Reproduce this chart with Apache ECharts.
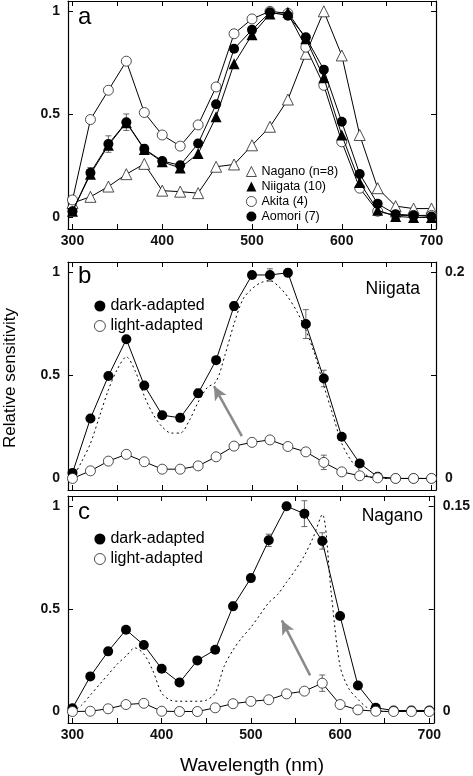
<!DOCTYPE html>
<html><head><meta charset="utf-8">
<script src="https://cdn.jsdelivr.net/npm/echarts@6/dist/echarts.min.js"></script>
<style>html,body{margin:0;padding:0;background:#fff}#c{width:473px;height:776px}</style>
</head><body><div id="c"></div>
<script>
// ---- data ----
const wavelengths = [300,320,340,360,380,400,420,440,460,480,500,520,540,560,580,600,620,640,660,680,700];
const xTickValues = [300,350,400,450,500,550,600,650,700];
const xLabelValues = [300,400,500,600,700];
const yTickValues = [0,0.5,1];

// panel a
const naganoA  = [0.07,0.10,0.15,0.21,0.26,0.13,0.125,0.118,0.246,0.257,0.35,0.44,0.572,0.794,1.0,0.786,0.40,0.142,0.055,0.043,0.043];
const niigataA = [0.03,0.21,0.35,0.46,0.33,0.27,0.24,0.31,0.488,0.746,0.886,0.987,0.995,0.867,0.678,0.40,0.17,0.035,0.005,0.0,0.0];
const akitaA   = [0.085,0.475,0.617,0.758,0.509,0.40,0.346,0.449,0.633,0.891,0.963,1.0,0.99,0.826,0.641,0.367,0.142,0.03,0.01,0.01,0.01];
const aomoriA  = [0.03,0.217,0.356,0.462,0.333,0.274,0.253,0.359,0.549,0.818,0.91,0.995,0.979,0.874,0.717,0.464,0.211,0.066,0.016,0.01,0.005];
const aomoriErrA = [0.02,0.025,0.04,0.04,0.02,0.015,0.015,0,0,0,0,0,0,0,0,0,0,0,0,0,0];

// panel b (Niigata)
const darkB  = [0.027,0.291,0.497,0.675,0.451,0.307,0.294,0.413,0.574,0.836,0.987,0.987,0.998,0.749,0.485,0.202,0.073,0.008,0.0,0.0,0.0];
const darkBErr = [0,0,0,0,0,0,0,0.02,0,0.02,0,0.03,0.02,0.07,0.04,0,0,0,0,0,0];
const lightB = [0.0,0.0074,0.0168,0.0234,0.0162,0.009,0.009,0.0122,0.021,0.0314,0.035,0.0374,0.031,0.0258,0.0156,0.0064,0.0026,0.0006,0.0,0.0,0.0];
const lightBErr = [0,0,0,0,0,0,0,0,0,0,0,0,0,0,0.007,0,0,0,0,0,0];

// panel c (Nagano)
const darkC  = [0.016,0.171,0.293,0.398,0.324,0.208,0.141,0.249,0.301,0.513,0.65,0.834,1.0,0.964,0.831,0.465,0.127,0.018,0.005,0.005,0.005];
const darkCErr = [0,0,0,0,0,0,0,0.015,0,0.02,0,0.03,0.015,0.063,0.04,0,0,0,0,0,0];
const lightC = [0,0.0002,0.002,0.0051,0.006,0.0002,0,0,0.0027,0.0057,0.0074,0.0086,0.0129,0.0149,0.0207,0.0051,0.0012,0.0002,0,0,0];
const lightCErr = [0,0,0,0,0,0,0,0,0,0,0,0,0,0,0.006,0,0,0,0,0,0];

// dotted curves (10 nm steps)
const dottedWavelengths = [300,310,320,330,340,350,360,370,380,390,400,410,420,430,440,450,460,470,480,490,500,510,520,530,540,550,560,570,580,590,600,610,620,630,640,650,660,670,680,690,700];
const dottedB = [0.0,0.08,0.17,0.30,0.43,0.53,0.59,0.52,0.40,0.31,0.25,0.22,0.22,0.28,0.37,0.44,0.47,0.60,0.75,0.87,0.92,0.95,0.96,0.93,0.88,0.81,0.72,0.60,0.45,0.31,0.17,0.09,0.04,0.01,0,0,0,0,0,0,0];
const dottedC = [0,0.03,0.08,0.13,0.18,0.23,0.27,0.31,0.28,0.20,0.09,0.055,0.05,0.05,0.05,0.055,0.09,0.22,0.30,0.36,0.41,0.47,0.53,0.57,0.63,0.69,0.76,0.85,0.96,0.58,0.22,0.11,0.06,0.02,0.01,0,0,0,0,0,0];

// arrows (data units of left axis) [tail, head]
const arrowB = [[488.7,0.205],[457.6,0.448]];
const arrowC = [[566.4,0.176],[534.7,0.444]];

// ---- chart ----
const FONT = '"Liberation Sans", Arial, Helvetica, sans-serif';
const chart = echarts.init(document.getElementById('c'), null, {renderer:'canvas'});

const grids = [
  {left:68, top:1, width:368, height:228},
  {left:68, top:262, width:368, height:228},
  {left:68, top:496, width:368, height:227}
];

function xAx(g, pos, showLabel){
  return {type:'value', gridIndex:g, position:pos, min:295, max:705,
    axisLine:{show:true, onZero:false, lineStyle:{color:'#000', width:1.2}},
    axisTick:{show:true, inside:true, length:5, customValues:xTickValues, lineStyle:{color:'#000', width:1}},
    axisLabel:{show:showLabel, customValues:xLabelValues, fontFamily:FONT, fontSize:14, fontWeight:'bold', color:'#111', margin:5},
    splitLine:{show:false}};
}
function yAx(g, pos, min, max, ticks, labels){
  return {type:'value', gridIndex:g, position:pos, min:min, max:max,
    axisLine:{show:true, onZero:false, lineStyle:{color:'#000', width:1.2}},
    axisTick:{show:true, inside:true, length:5, customValues:ticks, lineStyle:{color:'#000', width:1}},
    axisLabel:{show:labels.length>0, customValues:labels, fontFamily:FONT, fontSize:14, fontWeight:'bold', color:'#111', margin:pos==='left'?8:9},
    splitLine:{show:false}};
}
const LMIN=-0.056, LMAX=1.05;
const xAxes = [xAx(0,'bottom',true), xAx(0,'top',false), xAx(1,'bottom',false), xAx(1,'top',false), xAx(2,'bottom',true), xAx(2,'top',false)];
const yAxes = [
  yAx(0,'left',LMIN,LMAX,yTickValues,yTickValues),
  yAx(0,'right',LMIN,LMAX,yTickValues,[]),
  yAx(1,'left',LMIN,LMAX,yTickValues,yTickValues),
  yAx(1,'right',LMIN*0.2,LMAX*0.2,[0,0.1,0.2],[0,0.2]),
  yAx(2,'left',LMIN,LMAX,yTickValues,yTickValues),
  yAx(2,'right',LMIN*0.15,LMAX*0.15,[0,0.075,0.15],[0,0.15])
];

function pairs(xs, ys){ return xs.map((x,i)=>[x, ys[i]]); }
function lineS(name, xi, yi, ys, symbol, filled, size, z){
  return {type:'line', name:name, xAxisIndex:xi, yAxisIndex:yi, data:pairs(wavelengths, ys),
    symbol:symbol, symbolSize:size, showSymbol:true, showAllSymbol:true, z:z||3,
    lineStyle:{color:'#000', width:1},
    itemStyle:{color: filled?'#000':'#fff', borderColor: filled?'#000':'#222', borderWidth: filled?0:0.8, opacity:1},
    emphasis:{disabled:true}, animation:false};
}
function errS(xi, yi, ys, errs){
  const d = [];
  wavelengths.forEach((w,i)=>{ if(errs[i]>0) d.push([w, ys[i]-errs[i], ys[i]+errs[i]]); });
  return {type:'custom', xAxisIndex:xi, yAxisIndex:yi, z:2, silent:true, animation:false,
    encode:{x:0, y:[1,2]}, data:d,
    renderItem:function(params, api){
      const x = api.value(0);
      const lo = api.coord([x, api.value(1)]);
      const hi = api.coord([x, api.value(2)]);
      const cw = 3, st = {stroke:'#444', lineWidth:0.8};
      return {type:'group', children:[
        {type:'line', shape:{x1:lo[0],y1:lo[1],x2:hi[0],y2:hi[1]}, style:st},
        {type:'line', shape:{x1:lo[0]-cw,y1:lo[1],x2:lo[0]+cw,y2:lo[1]}, style:st},
        {type:'line', shape:{x1:hi[0]-cw,y1:hi[1],x2:hi[0]+cw,y2:hi[1]}, style:st}
      ]};
    }};
}
function dotS(xi, yi, ys){
  return {type:'line', xAxisIndex:xi, yAxisIndex:yi, data:pairs(dottedWavelengths, ys), symbol:'none', smooth:0.3, z:1,
    lineStyle:{color:'#000', width:1, type:[2,3]}, silent:true, animation:false};
}
function arrowML(coords){
  return {silent:true, symbol:['none','arrow'], symbolSize:[10,14], animation:false,
    label:{show:false}, lineStyle:{color:'#8a8a8a', width:2.5, type:'solid'}, emphasis:{disabled:true},
    data:[[{coord:coords[0]},{coord:coords[1]}]]};
}

const series = [];
// panel a
series.push(lineS('Nagano (n=8)',0,0,naganoA,'triangle',false,11,3));
series.push(lineS('Akita (4)',0,0,akitaA,'circle',false,10,3));
series.push(lineS('Niigata (10)',0,0,niigataA,'triangle',true,11,4));
series.push(errS(0,0,aomoriA,aomoriErrA));
series.push(lineS('Aomori (7)',0,0,aomoriA,'circle',true,10,5));
// panel b
series.push(dotS(2,2,dottedB));
series.push(errS(2,2,darkB,darkBErr));
const sdB = lineS('dark-adapted',2,2,darkB,'circle',true,10,3);
sdB.markLine = arrowML(arrowB);
series.push(sdB);
series.push(errS(2,3,lightB,lightBErr));
series.push(lineS('light-adapted',2,3,lightB,'circle',false,10,4));
// panel c
series.push(dotS(4,4,dottedC));
series.push(errS(4,4,darkC,darkCErr));
const sdC = lineS('dark-adapted',4,4,darkC,'circle',true,10,3);
sdC.markLine = arrowML(arrowC);
series.push(sdC);
series.push(errS(4,5,lightC,lightCErr));
series.push(lineS('light-adapted',4,5,lightC,'circle',false,10,4));

const openIcon = {color:'#fff', borderColor:'#222', borderWidth:0.8};
const filledIcon = {color:'#000', borderWidth:0};
const legendBase = {orient:'vertical', selectedMode:false, padding:0, textStyle:{fontFamily:FONT, color:'#000'}};

const option = {
  backgroundColor:'#fff',
  animation:false,
  grid:grids,
  xAxis:xAxes,
  yAxis:yAxes,
  series:series,
  legend:[
    Object.assign({}, legendBase, {left:246, top:165, itemGap:2, itemWidth:10, itemHeight:10,
      textStyle:{fontFamily:FONT, color:'#000', fontSize:12.5},
      data:[{name:'Nagano (n=8)', icon:'triangle', itemStyle:openIcon},
            {name:'Niigata (10)', icon:'triangle', itemStyle:filledIcon},
            {name:'Akita (4)', icon:'circle', itemStyle:openIcon},
            {name:'Aomori (7)', icon:'circle', itemStyle:filledIcon}]}),
    Object.assign({}, legendBase, {left:94, top:298, itemGap:4, itemWidth:11, itemHeight:11,
      textStyle:{fontFamily:FONT, color:'#000', fontSize:16},
      data:[{name:'dark-adapted', icon:'circle', itemStyle:filledIcon},
            {name:'light-adapted', icon:'circle', itemStyle:openIcon}]}),
    Object.assign({}, legendBase, {left:94, top:531, itemGap:4, itemWidth:11, itemHeight:11,
      textStyle:{fontFamily:FONT, color:'#000', fontSize:16},
      data:[{name:'dark-adapted', icon:'circle', itemStyle:filledIcon},
            {name:'light-adapted', icon:'circle', itemStyle:openIcon}]})
  ],
  graphic:[
    {type:'text', left:78, top:5, style:{text:'a', font:'24px '+FONT, fill:'#000'}},
    {type:'text', left:78, top:264, style:{text:'b', font:'24px '+FONT, fill:'#000'}},
    {type:'text', left:78, top:500, style:{text:'c', font:'24px '+FONT, fill:'#000'}},
    {type:'text', right:53, top:280, style:{text:'Niigata', font:'17.5px '+FONT, fill:'#000'}},
    {type:'text', right:50, top:507, style:{text:'Nagano', font:'17.5px '+FONT, fill:'#000'}},
    {type:'text', x:10, y:378, rotation:Math.PI/2, style:{text:'Relative sensitivity', font:'17px '+FONT, fill:'#000', align:'center', verticalAlign:'middle'}},
    {type:'text', x:252, y:766, style:{text:'Wavelength (nm)', font:'19px '+FONT, fill:'#000', align:'center', verticalAlign:'middle'}}
  ]
};
chart.setOption(option);
</script>
</body></html>
